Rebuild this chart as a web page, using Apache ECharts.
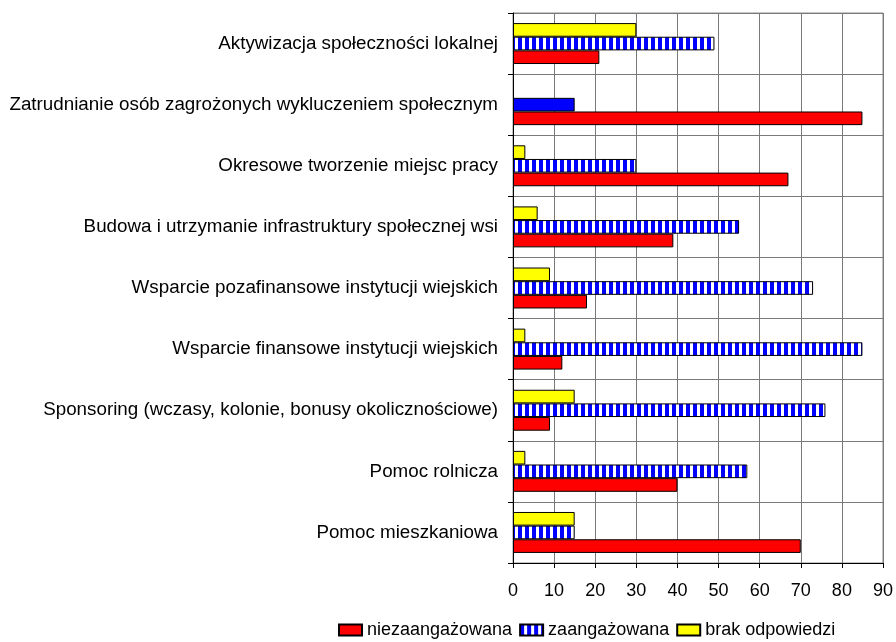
<!DOCTYPE html>
<html>
<head>
<meta charset="utf-8">
<script src="https://cdn.jsdelivr.net/npm/echarts@6/dist/echarts.min.js"></script>
<style>
  html, body { margin: 0; padding: 0; background: #fff; }
  #chart { width: 896px; height: 642px; }
</style>
</head>
<body>
<div id="chart"></div>
<script>
// kategorie od dołu do góry
const categories = [
  "Pomoc mieszkaniowa",
  "Pomoc rolnicza",
  "Sponsoring (wczasy, kolonie, bonusy okolicznościowe)",
  "Wsparcie finansowe instytucji wiejskich",
  "Wsparcie pozafinansowe instytucji wiejskich",
  "Budowa i utrzymanie infrastruktury społecznej wsi",
  "Okresowe tworzenie miejsc pracy",
  "Zatrudnianie osób zagrożonych wykluczeniem społecznym",
  "Aktywizacja społeczności lokalnej"
]
const niezaangazowana = [70, 40, 9, 12, 18, 39, 67, 85, 21]
const zaangazowana = [15, 57, 76, 85, 73, 55, 30, 15, 49]
const brakOdpowiedzi = [15, 3, 15, 3, 9, 6, 3, "-", 30]
const seriesNames = ["niezaangażowana", "zaangażowana", "brak odpowiedzi"]
const xTicks = [0, 10, 20, 30, 40, 50, 60, 70, 80, 90]

// paski niebiesko-białe
function stripePattern() {
  const c = document.createElement("canvas")
  c.width = 7
  c.height = 7
  const ctx = c.getContext("2d")
  ctx.fillStyle = "#ffffff"
  ctx.fillRect(0, 0, 7, 7)
  ctx.fillStyle = "#0000ff"
  ctx.fillRect(0, 0, 4, 7)
  return c
}
const stripes = { image: stripePattern(), repeat: "repeat" }

const font = "'Liberation Sans', Arial, sans-serif"
const chart = echarts.init(document.getElementById("chart"))

const blueData = zaangazowana.map(function (v, i) {
  // "Zatrudnianie..." ma pełny niebieski pasek
  if (i === 7) return { value: v, itemStyle: { color: "#0000ff" } }
  return v
})

const option = {
  animation: false,
  textStyle: { fontFamily: font },
  grid: {
    left: 513,
    right: 13,
    top: 13,
    bottom: 79,
    show: true,
    borderColor: "#8c8c8c",
    borderWidth: 1
  },
  legend: {
    left: 338,
    top: 621,
    padding: 0,
    icon: "rect",
    itemWidth: 23,
    itemHeight: 11,
    itemGap: 7,
    textStyle: { fontSize: 18, color: "#000", fontFamily: font },
    data: seriesNames
  },
  xAxis: {
    type: "value",
    min: xTicks[0],
    max: xTicks[xTicks.length - 1],
    interval: 10,
    axisLine: { show: true, lineStyle: { color: "#000" } },
    axisTick: { show: true, length: 5, lineStyle: { color: "#000" } },
    axisLabel: { fontSize: 18, color: "#000", margin: 19, fontFamily: font },
    splitLine: { show: true, lineStyle: { color: "#7a7a7a" } }
  },
  yAxis: {
    type: "category",
    data: categories,
    axisLine: { show: true, lineStyle: { color: "#000" } },
    axisTick: { show: true, length: 5, lineStyle: { color: "#000" } },
    axisLabel: { fontSize: 18.8, color: "#000", margin: 15, fontFamily: font },
    splitLine: { show: true, lineStyle: { color: "#7a7a7a" } }
  },
  // kolejność serii: od góry paska (żółty) do dołu (czerwony)
  series: [
    {
      name: seriesNames[2],
      type: "bar",
      data: brakOdpowiedzi,
      barGap: "0%",
      barCategoryGap: "33%",
      itemStyle: { color: "#ffff00", borderColor: "#000", borderWidth: 1 }
    },
    {
      name: seriesNames[1],
      type: "bar",
      data: blueData,
      barGap: "0%",
      barCategoryGap: "33%",
      itemStyle: { color: stripes, borderColor: "#000", borderWidth: 1 }
    },
    {
      name: seriesNames[0],
      type: "bar",
      data: niezaangazowana,
      barGap: "0%",
      barCategoryGap: "33%",
      itemStyle: { color: "#ff0000", borderColor: "#000", borderWidth: 1 }
    }
  ]
}
chart.setOption(option)
</script>
</body>
</html>
